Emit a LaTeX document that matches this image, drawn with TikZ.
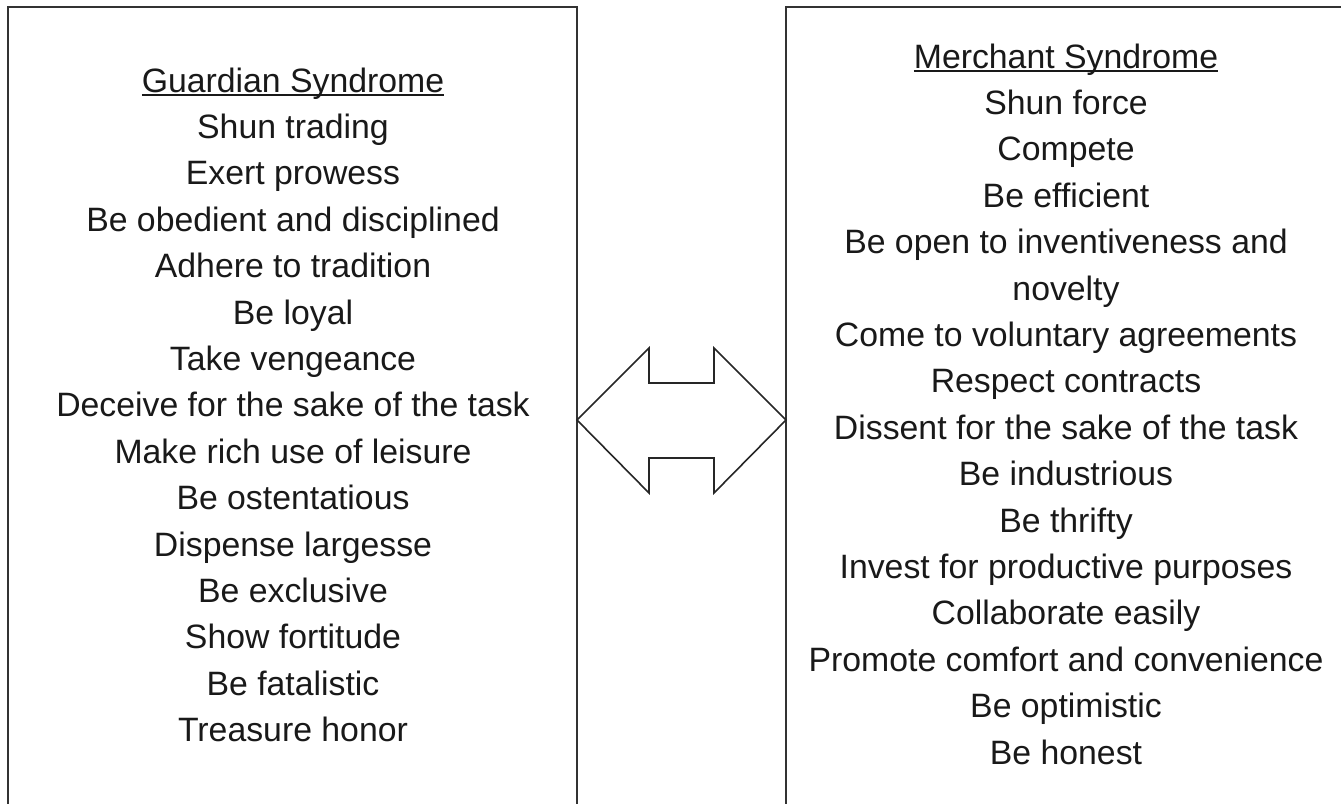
\documentclass[tikz,border=0pt]{standalone}
\usepackage{fontspec}
\setmainfont{Liberation Sans}
\newcommand{\hdrline}[1]{\setbox0\hbox{#1}\rlap{\rule[-3.5pt]{\wd0}{1.6pt}}\box0}
\begin{document}
\begin{tikzpicture}[x=1pt,y=-1pt,
  panel/.style={draw=black!80,line width=2pt},
  item/.style={anchor=base,inner sep=0pt,font=\fontsize{33.8}{40}\selectfont,text=black!90},
  twoway/.style={draw=black!85,line width=1.6pt,line join=miter,fill=white}]
  \useasboundingbox (0,0) rectangle (1341,803);
  \clip (0,0) rectangle (1341,803);

  % the two panels (they run past the lower edge)
  \draw[panel] (8,7) rectangle (577,830);
  \draw[panel] (786,7) rectangle (1360,830);
  \coordinate (lp) at (577,420);
  \coordinate (rp) at (786,420);

  % left column
  \foreach \t [count=\i from 0] in {%
    {\hdrline{Guardian Syndrome}},
    Shun trading,
    Exert prowess,
    Be obedient and disciplined,
    Adhere to tradition,
    Be loyal,
    Take vengeance,
    Deceive for the sake of the task,
    Make rich use of leisure,
    Be ostentatious,
    Dispense largesse,
    Be exclusive,
    Show fortitude,
    Be fatalistic,
    Treasure honor}
    \node[item] (g\i) at (293,92+46.4*\i) {\t};

  % right column
  \foreach \t [count=\i from 0] in {%
    {\hdrline{Merchant Syndrome}},
    Shun force,
    Compete,
    Be efficient,
    Be open to inventiveness and,
    novelty,
    Come to voluntary agreements,
    Respect contracts,
    Dissent for the sake of the task,
    Be industrious,
    Be thrifty,
    Invest for productive purposes,
    Collaborate easily,
    Promote comfort and convenience,
    Be optimistic,
    Be honest}
    \node[item] (m\i) at (1066,68+46.4*\i) {\t};

  % double-headed arrow between the panels
  \draw[twoway] (lp) -- (649,348) -- (649,383) -- (714,383) -- (714,348)
    -- (rp) -- (714,493) -- (714,458) -- (649,458) -- (649,493) -- cycle;
\end{tikzpicture}
\end{document}
